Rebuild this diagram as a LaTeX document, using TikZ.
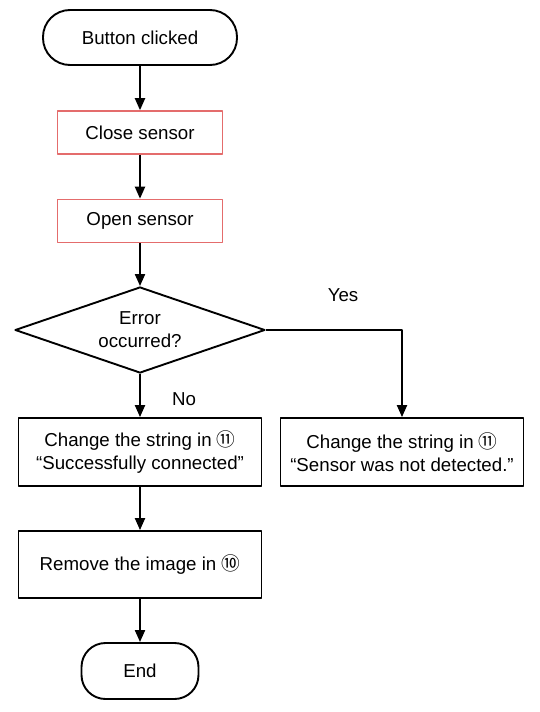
\documentclass[tikz,border=0pt]{standalone}
\usepackage{fontspec}
\setmainfont{Liberation Sans}
\newfontfamily\circfont{Noto Sans CJK JP}
\usetikzlibrary{shapes.geometric,arrows.meta}
\definecolor{sensorred}{RGB}{228,108,108}
\tikzset{
	term/.style={draw, line width=1.9pt, rectangle, minimum height=55pt},
	proc/.style={draw, line width=1.8pt, rectangle, minimum width=243pt, minimum height=68pt, align=center},
	sens/.style={draw=sensorred, line width=1.6pt, rectangle, minimum width=165pt, minimum height=43pt},
	dec/.style={draw, line width=1.9pt, diamond, minimum width=250pt, minimum height=86pt, aspect=2.9, inner sep=0pt, align=center},
	flow/.style={->, line width=2pt}
}
\begin{document}
\begin{tikzpicture}[x=1pt, y=-1pt, font=\fontsize{18.7}{23}\selectfont, line join=round, >={Triangle[length=12pt,width=10pt]}]
		\useasboundingbox (0,0) rectangle (540,712);
		\node[term, minimum width=194pt, rounded corners=27pt] (start) at (140,37.5) {Button clicked};
		\node[sens] (close) at (140,132.5) {Close sensor};
		\node[sens] (open) at (140,221) {Open sensor};
		\node[dec] (err) at (140,330) {Error\\occurred?};
		\node[proc] (okbox) at (140,452) {Change the string in {\circfont ⑪}\\“Successfully connected”};
		\node[proc] (ngbox) at (402,452) {Change the string in {\circfont ⑪}\\“Sensor was not detected.”};
		\node[proc, minimum height=67pt] (remove) at (140,564.5) {Remove the image in {\circfont ⑩}};
		\node[term, minimum width=117pt, minimum height=56pt, rounded corners=24pt] (stop) at (140,671) {End};
		\node (yes) at (343,295) {Yes};
		\node (no) at (184,399) {No};
		\draw[flow] (start) -- (close);
		\draw[flow] (close) -- (open);
		\draw[flow] (open) -- (err);
		\draw[flow] (err) -- (okbox);
		\draw[flow] (err.east) -| (ngbox.north);
		\draw[flow] (okbox) -- (remove);
		\draw[flow] (remove) -- (stop);
\end{tikzpicture}
\end{document}
